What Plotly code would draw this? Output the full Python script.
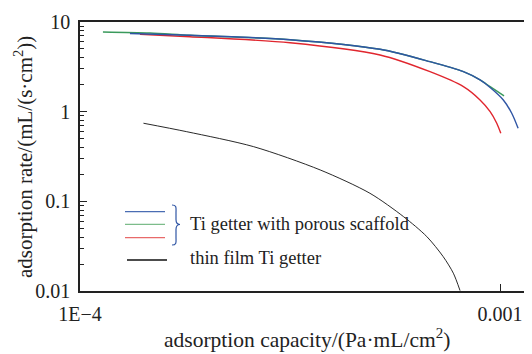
import plotly.graph_objects as go

# Ti getter with porous scaffold (three samples)
blue_x = [1.315e-4, 1.827e-4, 3.162e-4, 5.18e-4, 6.81e-4, 8.18e-4, 8.96e-4, 9.47e-4, 1.018e-3, 1.066e-3, 1.104e-3]
blue_y = [7.44, 7.11, 6.35, 4.96, 3.61, 2.79, 2.26, 1.86, 1.35, 0.96, 0.653]
green_x = [1.134e-4, 1.468e-4, 1.827e-4, 3.162e-4, 5.18e-4, 6.81e-4, 8.18e-4, 8.96e-4, 9.47e-4, 1.022e-3]
green_y = [7.74, 7.54, 7.11, 6.35, 4.96, 3.61, 2.79, 2.26, 1.90, 1.50]
red_x = [1.389e-4, 1.827e-4, 3.162e-4, 5.18e-4, 6.81e-4, 8.18e-4, 8.96e-4, 9.47e-4, 9.82e-4, 1.004e-3]
red_y = [7.29, 6.86, 5.88, 4.29, 2.79, 1.90, 1.35, 1.00, 0.743, 0.574]
# thin film Ti getter
black_x = [1.416e-4, 1.795e-4, 2.59e-4, 3.73e-4, 4.90e-4, 5.89e-4, 6.69e-4, 7.32e-4, 7.74e-4, 8.03e-4]
black_y = [0.743, 0.598, 0.407, 0.224, 0.123, 0.0675, 0.0405, 0.0242, 0.0158, 0.0101]

x_tickvals = [1e-4, 1e-3]
x_ticktext = ["1E\u22124", "0.001"]
y_tickvals = [0.01, 0.1, 1, 10]
y_ticktext = ["0.01", "0.1", "1", "10"]
legend_labels = ["Ti getter with porous scaffold", "thin film Ti getter"]

FONT = "Liberation Serif"
BLUE = "#2f55a4"
GREEN = "#3a9a5c"
RED = "#e0262e"

fig = go.Figure()
for xs, ys, c, w in [(black_x, black_y, "#111111", 0.9),
                     (red_x, red_y, RED, 1.4),
                     (green_x, green_y, GREEN, 1.4),
                     (blue_x, blue_y, BLUE, 1.4)]:
    fig.add_trace(go.Scatter(x=xs, y=ys, mode="lines",
                             line=dict(color=c, width=w, shape="spline", smoothing=0.8),
                             showlegend=False, hoverinfo="skip"))

minor_y = [m * 10 ** e for e in (-2, -1, 0) for m in range(2, 10)]

fig.update_xaxes(type="log", range=[-4, -2.924], tickvals=x_tickvals, ticktext=x_ticktext,
                 ticks="inside", ticklen=7, tickwidth=1, tickcolor="#222",
                 showline=True, linecolor="#222", linewidth=1.6, mirror=True,
                 showgrid=False, zeroline=False, ticklabelstandoff=4,
                 tickfont=dict(family=FONT, size=20, color="#222"))
fig.update_yaxes(type="log", range=[-2, 1], tickvals=y_tickvals, ticktext=y_ticktext,
                 ticks="inside", ticklen=7, tickwidth=1, tickcolor="#222",
                 minor=dict(tickvals=minor_y, ticks="inside", ticklen=4, tickcolor="#222", showgrid=False),
                 showline=True, linecolor="#222", linewidth=1.6,
                 showgrid=False, zeroline=False, ticklabelstandoff=4,
                 tickfont=dict(family=FONT, size=20, color="#222"))

# page body has an 8px margin; target plot box on screen: x 80..532, y 22..291
OFF = 8
W, H = 532 - OFF, 354 - OFF
SX0, SX1, SY0, SY1 = 80, 532, 22, 291
L, R, T, B = SX0 - OFF, 0, SY0 - OFF, H + OFF - SY1

def px(x):
    return (x - SX0) / (SX1 - SX0)

def py(y):
    return (SY1 - y) / (SY1 - SY0)

shapes = []
for y, c in [(211.7, "#4a6db3"), (224.3, "#7cbc8a"), (237.7, "#e86a6a"), (260, "#111111")]:
    x0 = 125 if c != "#111111" else 127
    shapes.append(dict(type="line", xref="paper", yref="paper", x0=px(x0), x1=px(x0 + 40),
                       y0=py(y), y1=py(y), line=dict(color=c, width=1.3)))
# brace
bx0, bx1, yt, ym, yb = 172, 180, 205, 224.5, 245
path = (f"M {px(bx0)},{py(yt)} C {px(bx0+5)},{py(yt)} {px(bx0+4)},{py(yt+3)} {px(bx0+4)},{py(yt+8)} "
        f"L {px(bx0+4)},{py(ym-5)} C {px(bx0+4)},{py(ym-1)} {px(bx1-2)},{py(ym)} {px(bx1)},{py(ym)} "
        f"C {px(bx1-2)},{py(ym)} {px(bx0+4)},{py(ym+1)} {px(bx0+4)},{py(ym+5)} "
        f"L {px(bx0+4)},{py(yb-8)} C {px(bx0+4)},{py(yb-3)} {px(bx0+5)},{py(yb)} {px(bx0)},{py(yb)}")
shapes.append(dict(type="path", xref="paper", yref="paper", path=path,
                   line=dict(color="#2f55a4", width=1.2)))

annotations = [
    dict(text=legend_labels[0], xref="paper", yref="paper", x=px(188), y=py(224),
         xanchor="left", yanchor="middle", showarrow=False,
         font=dict(family=FONT, size=18.5, color="#222")),
    dict(text=legend_labels[1], xref="paper", yref="paper", x=px(188), y=py(258),
         xanchor="left", yanchor="middle", showarrow=False,
         font=dict(family=FONT, size=18.5, color="#222")),
    dict(text="adsorption capacity/(Pa\u00b7mL/cm<sup>2</sup>)", xref="paper", yref="paper",
         x=px(307), y=py(353), xanchor="center", yanchor="bottom", showarrow=False,
         borderpad=0, font=dict(family=FONT, size=21.5, color="#222")),
    dict(text="adsorption rate/(mL/(s\u00b7cm<sup>2</sup>))", xref="paper", yref="paper",
         x=px(23), y=py(157), xanchor="center", yanchor="middle", showarrow=False, textangle=-90,
         font=dict(family=FONT, size=21, color="#222")),
]

fig.update_layout(width=W, height=H, margin=dict(l=L, r=R, t=T, b=B, pad=0),
                  plot_bgcolor="white", paper_bgcolor="white",
                  shapes=shapes, annotations=annotations, showlegend=False)
fig.write_html("out.html")
